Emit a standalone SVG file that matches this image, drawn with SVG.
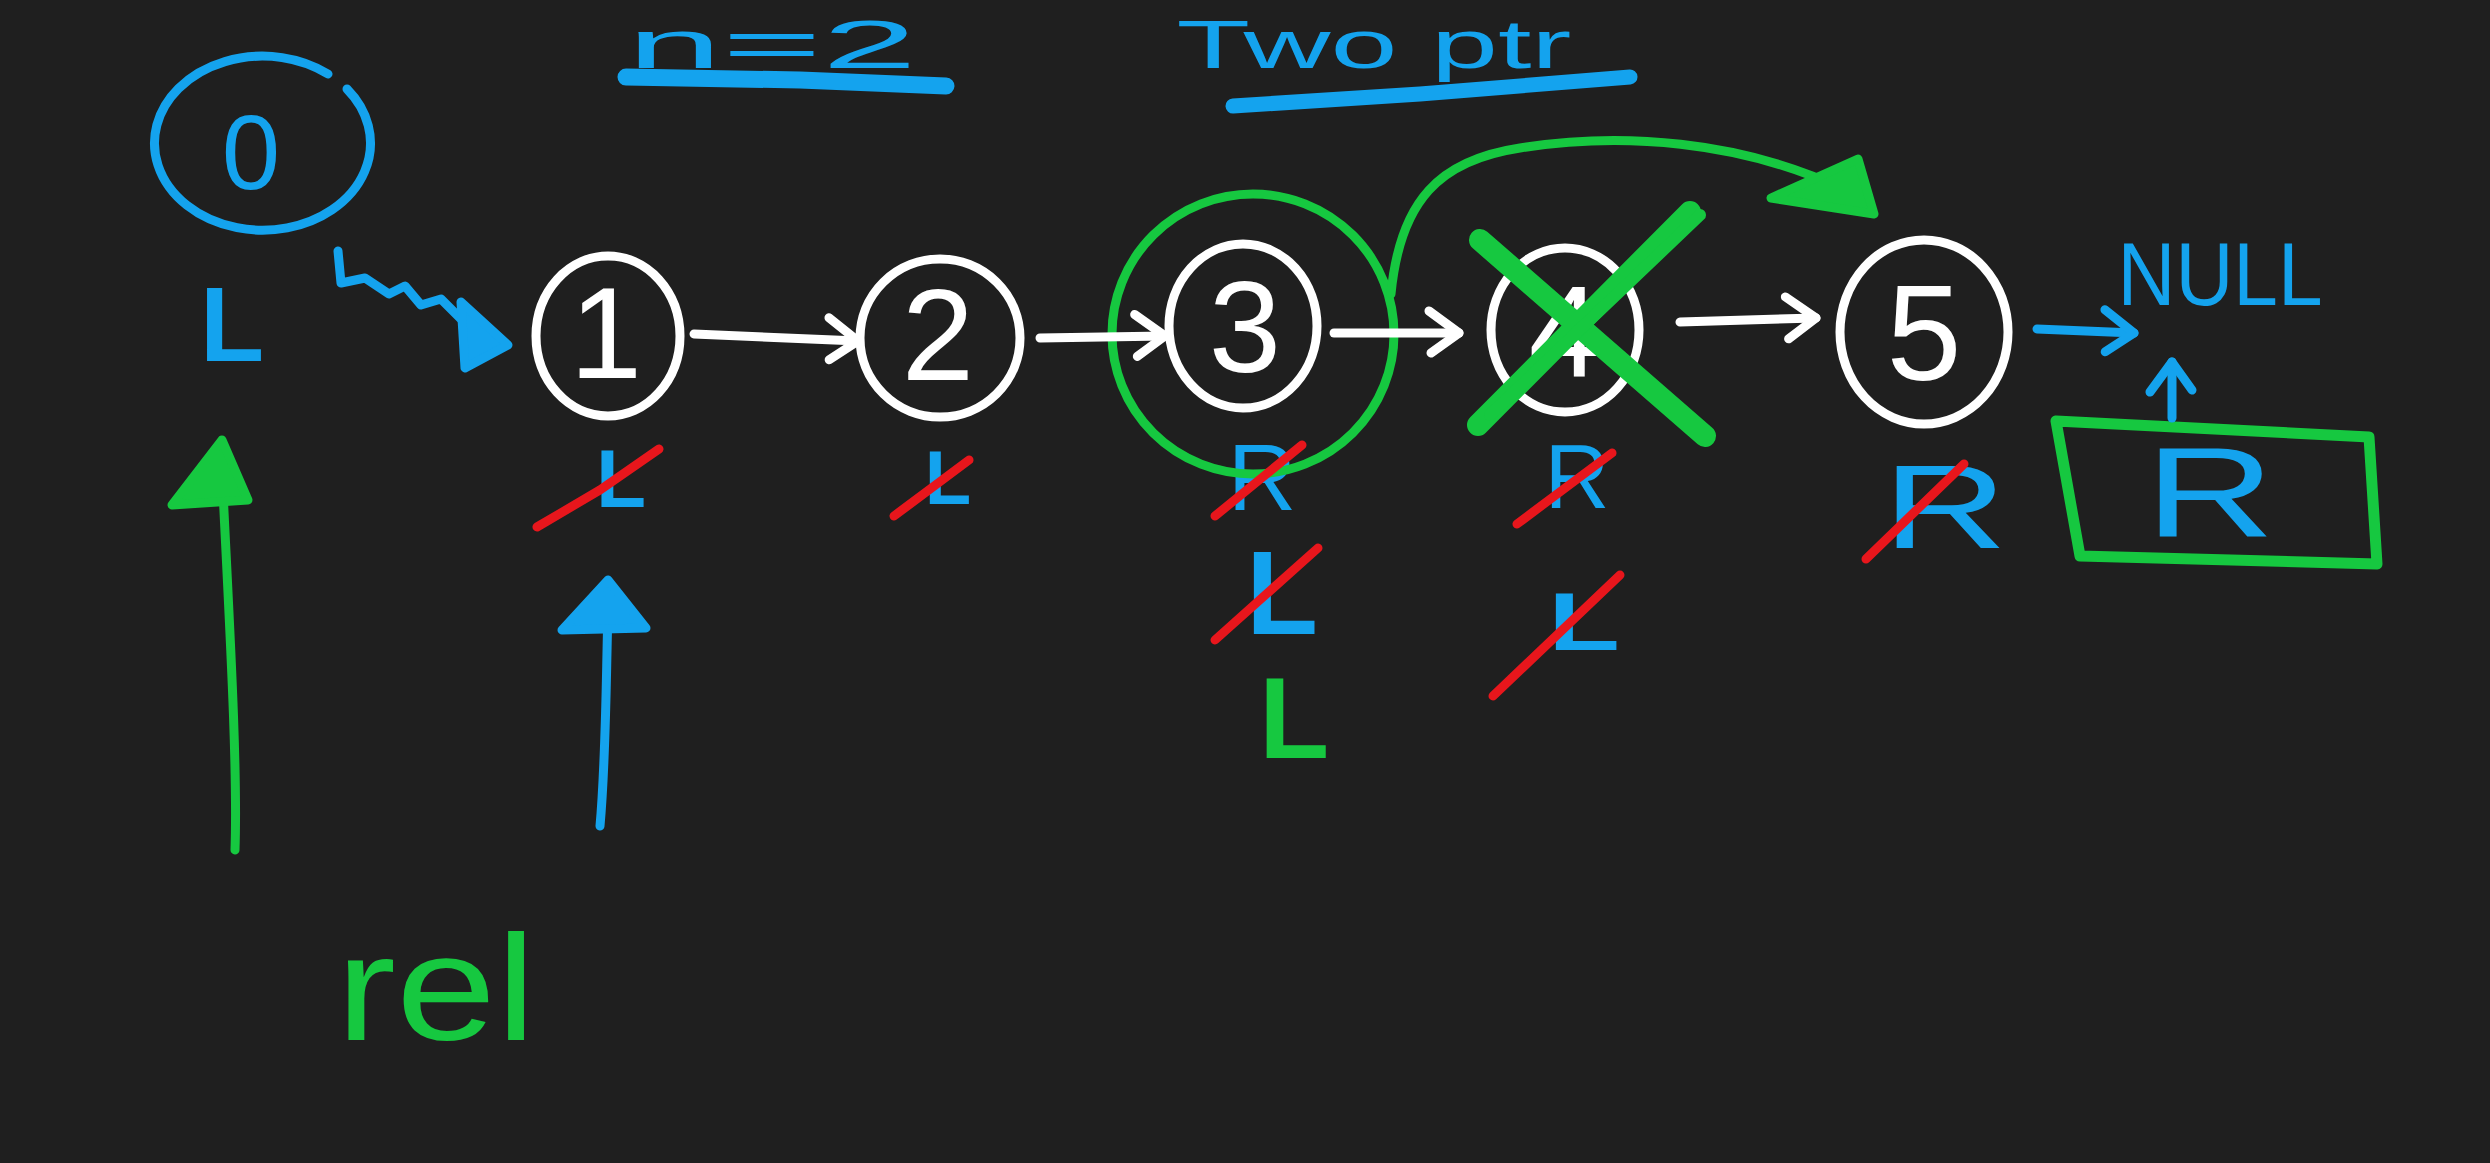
<svg xmlns="http://www.w3.org/2000/svg" width="2490" height="1163" viewBox="0 0 2490 1163">
<defs>
<style>
.bg{fill:#1f1f1f}
.w{fill:none;stroke:#ffffff;stroke-width:9;stroke-linecap:round;stroke-linejoin:round}
.b{fill:none;stroke:#14a3ee;stroke-width:9;stroke-linecap:round;stroke-linejoin:round}
.g{fill:none;stroke:#16c840;stroke-width:9;stroke-linecap:round;stroke-linejoin:round}
.r{fill:none;stroke:#e8161c;stroke-width:9;stroke-linecap:round}
.t{font-family:"Liberation Sans",Arial,sans-serif;text-anchor:middle}
.tw{fill:#ffffff}
.tb{fill:#14a3ee}
.tg{fill:#16c840}
</style>
<marker id="chw" markerUnits="userSpaceOnUse" markerWidth="60" markerHeight="60" refX="40" refY="30" orient="auto">
<path d="M10,8 L40,30 L12,50" fill="none" stroke="#ffffff" stroke-width="9" stroke-linecap="round" stroke-linejoin="round"/>
</marker>
<marker id="chb" markerUnits="userSpaceOnUse" markerWidth="60" markerHeight="60" refX="40" refY="30" orient="auto">
<path d="M10,8 L40,30 L12,50" fill="none" stroke="#14a3ee" stroke-width="9" stroke-linecap="round" stroke-linejoin="round"/>
</marker>
</defs>
<rect class="bg" x="0" y="0" width="2490" height="1163"/>

<g id="title-n">
<text class="t tb" x="772" y="68" font-size="68" textLength="290" lengthAdjust="spacingAndGlyphs">n=2</text>
<path class="b" d="M626,77 L800,80 L946,86" style="stroke-width:17"/>
</g>
<g id="title-twoptr">
<text class="t tb" x="1374" y="68" font-size="68" textLength="395" lengthAdjust="spacingAndGlyphs">Two ptr</text>
<path class="b" d="M1233,106 L1420,94 L1630,77" style="stroke-width:15"/>
</g>

<g id="node-0">
<path class="b" d="M347,89 A108,87 0 1,1 328,74"/>
<text class="t tb" x="251" y="189" font-size="105">0</text>
<text class="t tb" x="232" y="361" font-size="105" font-weight="bold">L</text>
</g>

<g id="node-1">
<ellipse class="w" cx="608" cy="336" rx="72" ry="80"/>
<text class="t tw" x="606" y="378" font-size="130">1</text>
<text class="t tb" x="621" y="507" font-size="82" font-weight="bold">L</text>
<path class="r" d="M537,527 L600,490 L659,449"/>
</g>

<g id="node-2">
<ellipse class="w" cx="940" cy="338" rx="80" ry="79"/>
<text class="t tw" x="938" y="380" font-size="130">2</text>
<text class="t tb" x="948" y="504" font-size="76" font-weight="bold">L</text>
<path class="r" d="M894,516 L969,460"/>
</g>

<g id="node-3">
<ellipse class="w" cx="1243" cy="326" rx="74" ry="82"/>
<text class="t tw" x="1245" y="372" font-size="130">3</text>
<text class="t tb" x="1262" y="510" font-size="95">R</text>
<ellipse class="g" cx="1253" cy="334" rx="141" ry="140"/>
<path class="r" d="M1215,516 L1302,445"/>
<text class="t tb" x="1282" y="634" font-size="118" font-weight="bold">L</text>
<path class="r" d="M1215,640 L1318,548"/>
<text class="t tg" x="1294" y="758" font-size="115" font-weight="bold">L</text>
</g>

<g id="node-4">
<ellipse class="w" cx="1565" cy="330" rx="74" ry="82"/>
<text class="t tw" x="1565" y="376" font-size="130">4</text>
<path class="g" d="M1480,240 L1705,436" style="stroke-width:22"/>
<path class="g" d="M1690,212 L1478,425" style="stroke-width:22"/>
<path class="g" d="M1700,215 L1490,415" style="stroke-width:12"/>
<text class="t tb" x="1577" y="508" font-size="90">R</text>
<path class="r" d="M1517,524 L1612,453"/>
<text class="t tb" x="1584" y="650" font-size="82" font-weight="bold" textLength="72" lengthAdjust="spacingAndGlyphs">L</text>
<path class="r" d="M1493,696 L1620,575"/>
</g>

<g id="node-5">
<ellipse class="w" cx="1924" cy="332" rx="84" ry="92"/>
<text class="t tw" x="1924" y="380" font-size="135">5</text>
<text class="t tb" x="1945" y="548" font-size="118" textLength="125" lengthAdjust="spacingAndGlyphs">R</text>
<path class="r" d="M1866,559 L1964,464"/>
</g>

<g id="null">
<text class="t tb" x="2220" y="305" font-size="89" textLength="205" lengthAdjust="spacingAndGlyphs">NULL</text>
</g>

<g id="r-box">
<path class="g" d="M2056,421 L2369,437 L2377,564 L2080,556 Z" style="stroke-width:11"/>
<text class="t tb" x="2210" y="537" font-size="128" textLength="130" lengthAdjust="spacingAndGlyphs">R</text>
</g>

<g id="res">
<text class="t tg" x="436" y="1040" font-size="150" textLength="200" lengthAdjust="spacingAndGlyphs">rel</text>
</g>

<g id="connectors">
<path class="w" d="M694,334 L858,341" marker-end="url(#chw)"/>
<path class="w" d="M1040,338 L1165,336" marker-end="url(#chw)"/>
<path class="w" d="M1334,333 L1459,333" marker-end="url(#chw)"/>
<path class="w" d="M1680,322 L1816,318" marker-end="url(#chw)"/>
<path class="b" d="M2037,329 L2134,333" marker-end="url(#chb)"/>
<path class="b" d="M2172,418 L2172,362" marker-end="url(#chb)"/>
<path class="b" d="M338,251 L341,283 L365,278 L389,294 L405,286 L421,305 L441,299 L460,318 L480,338"/>
<path class="b" d="M461,302 L508,345 L465,368 Z" style="fill:#14a3ee"/>
<path class="g" d="M1391,294 C1400,200 1440,160 1520,148 C1620,132 1740,140 1845,190"/>
<path class="g" d="M1771,198 L1858,159 L1874,214 Z" style="fill:#16c840"/>
<path class="g" d="M235,850 C238,760 228,600 222,470"/>
<path class="g" d="M222,440 L172,505 L248,500 Z" style="fill:#16c840"/>
<path class="b" d="M600,826 C606,760 606,680 608,610"/>
<path class="b" d="M608,580 L562,630 L646,628 Z" style="fill:#14a3ee"/>
</g>
</svg>
